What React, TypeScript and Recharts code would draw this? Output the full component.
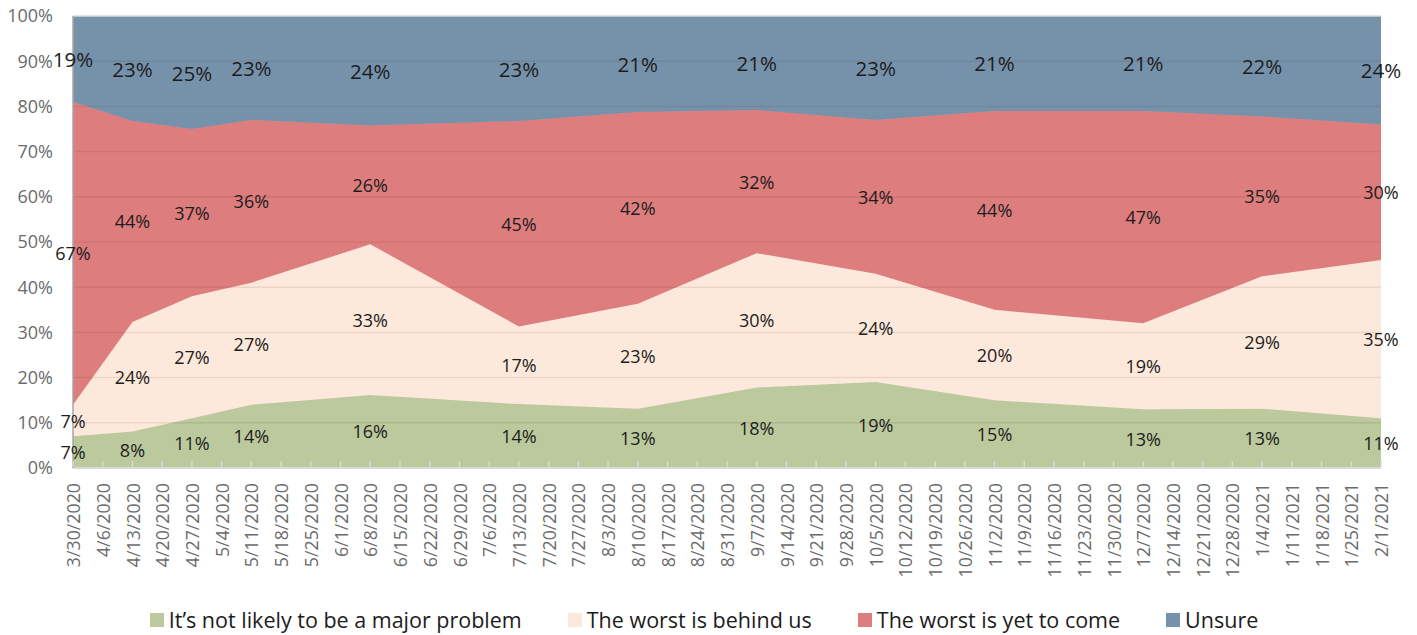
import {
  ComposedChart, Area, Line, XAxis, YAxis, ReferenceLine, Legend, LabelList
} from 'recharts'

// every Monday on the axis
const weekLabels = [
  '3/30/2020', '4/6/2020', '4/13/2020', '4/20/2020', '4/27/2020', '5/4/2020', '5/11/2020',
  '5/18/2020', '5/25/2020', '6/1/2020', '6/8/2020', '6/15/2020', '6/22/2020', '6/29/2020',
  '7/6/2020', '7/13/2020', '7/20/2020', '7/27/2020', '8/3/2020', '8/10/2020', '8/17/2020',
  '8/24/2020', '8/31/2020', '9/7/2020', '9/14/2020', '9/21/2020', '9/28/2020', '10/5/2020',
  '10/12/2020', '10/19/2020', '10/26/2020', '11/2/2020', '11/9/2020', '11/16/2020',
  '11/23/2020', '11/30/2020', '12/7/2020', '12/14/2020', '12/21/2020', '12/28/2020',
  '1/4/2021', '1/11/2021', '1/18/2021', '1/25/2021', '2/1/2021'
]

// survey waves
const surveyDates = [
  '3/30/2020', '4/13/2020', '4/27/2020', '5/11/2020', '6/8/2020', '7/13/2020', '8/10/2020',
  '9/7/2020', '10/5/2020', '11/2/2020', '12/7/2020', '1/4/2021', '2/1/2021'
]
const notLikely = [7, 8, 11, 14, 16, 14, 13, 18, 19, 15, 13, 13, 11]
const behindUs = [7, 24, 27, 27, 33, 17, 23, 30, 24, 20, 19, 29, 35]
const yetToCome = [67, 44, 37, 36, 26, 45, 42, 32, 34, 44, 47, 35, 30]
const unsure = [19, 23, 25, 23, 24, 23, 21, 21, 23, 21, 21, 22, 24]

const yTicks = [0, 10, 20, 30, 40, 50, 60, 70, 80, 90, 100]

const series = [
  { key: 'notLikely', name: 'It\u2019s not likely to be a major problem', color: '#bbc99d', values: notLikely, labelSize: 18 },
  { key: 'behindUs', name: 'The worst is behind us', color: '#fde9db', values: behindUs, labelSize: 18 },
  { key: 'yetToCome', name: 'The worst is yet to come', color: '#de7d7d', values: yetToCome, labelSize: 18 },
  { key: 'unsure', name: 'Unsure', color: '#7692ab', values: unsure, labelSize: 20.5 },
]

// shares normalised to 100, plus the middle of each band for the labels
const data = surveyDates.map((d, i) => {
  const total = series.reduce((s, ser) => s + ser.values[i], 0)
  const row: Record<string, number> = { week: weekLabels.indexOf(d) }
  let cum = 0
  series.forEach(ser => {
    const share = (ser.values[i] / total) * 100
    row[ser.key] = share
    row['mid_' + ser.key] = cum + share / 2
    row['raw_' + ser.key] = ser.values[i]
    cum += share
  })
  return row
})

const FONT = '"Open Sans", sans-serif'

function WeekTick({ x, y, payload }: any) {
  return (
    <g>
      <line x1={x} x2={x} y1={y - 1} y2={y - 7} stroke="#d9d9d9" strokeWidth={1.5} />
      <text
        x={0} y={0}
        transform={`translate(${x},${y + 15}) rotate(-90)`}
        textAnchor="end" dy="0.4em"
        fill="#6b6b6b" fontSize={17.8} fontFamily={FONT}
      >
        {weekLabels[payload.value]}
      </text>
    </g>
  )
}

function BandLabel({ x, y, value, size }: any) {
  return (
    <text x={x} y={y} textAnchor="middle" dominantBaseline="central"
      fill="#1c1c1c" fontSize={size} fontFamily={FONT}>
      {value}%
    </text>
  )
}

function LegendRow() {
  return (
    <div style={{
      display: 'flex', justifyContent: 'center', alignItems: 'center', width: 1417,
      paddingTop: 27, paddingRight: 9, boxSizing: 'border-box',
      fontFamily: FONT, fontSize: 21.5, color: '#1c1c1c'
    }}>
      {series.map((s, i) => (
        <div key={s.key} style={{ display: 'flex', alignItems: 'center', marginRight: i < series.length - 1 ? 46 : 0 }}>
          <span style={{ width: 14, height: 14, background: s.color, marginRight: 5, display: 'inline-block' }} />
          <span>{s.name}</span>
        </div>
      ))}
    </div>
  )
}

export default function App() {
  return (
    <div style={{ position: 'absolute', left: 0, top: 0, width: 1417, height: 635, background: '#fff' }}>
      <ComposedChart width={1417} height={635} data={data}
        margin={{ top: 16, right: 36, left: 0, bottom: 0 }}>
        {series.map(s => (
          <Area key={s.key} type="linear" dataKey={s.key} name={s.name} stackId="1"
            fill={s.color} fillOpacity={1} stroke={s.color} strokeWidth={1}
            isAnimationActive={false} />
        ))}
        {yTicks.slice(1, -1).map(v => (
          <ReferenceLine key={v} y={v} stroke="rgba(90,40,30,0.1)" strokeWidth={1.5} />
        ))}
        <ReferenceLine y={100} stroke="#d9d9d9" strokeWidth={1.5} />
        <XAxis type="number" dataKey="week" domain={[0, weekLabels.length - 1]}
          ticks={weekLabels.map((_, i) => i)} interval={0}
          tick={<WeekTick />} tickLine={false} tickSize={0} tickMargin={0}
          height={110} axisLine={{ stroke: '#d9d9d9', strokeWidth: 2 }} />
        <YAxis domain={[0, 100]} ticks={yTicks} width={73} tickLine={false} tickMargin={14}
          tickFormatter={v => `${v}%`} axisLine={{ stroke: '#a6a6a6', strokeWidth: 1.5 }}
          tick={{ fill: '#6b6b6b', fontSize: 18, fontFamily: FONT }} allowDataOverflow />
        {series.map(s => (
          <Line key={'lbl_' + s.key} dataKey={'mid_' + s.key} stroke="none" dot={false}
            activeDot={false} legendType="none" isAnimationActive={false}>
            <LabelList dataKey={'raw_' + s.key} content={<BandLabel size={s.labelSize} />} />
          </Line>
        ))}
        <Legend verticalAlign="bottom" height={57} wrapperStyle={{ left: 0, width: 1417 }}
          content={<LegendRow />} />
      </ComposedChart>
    </div>
  )
}
